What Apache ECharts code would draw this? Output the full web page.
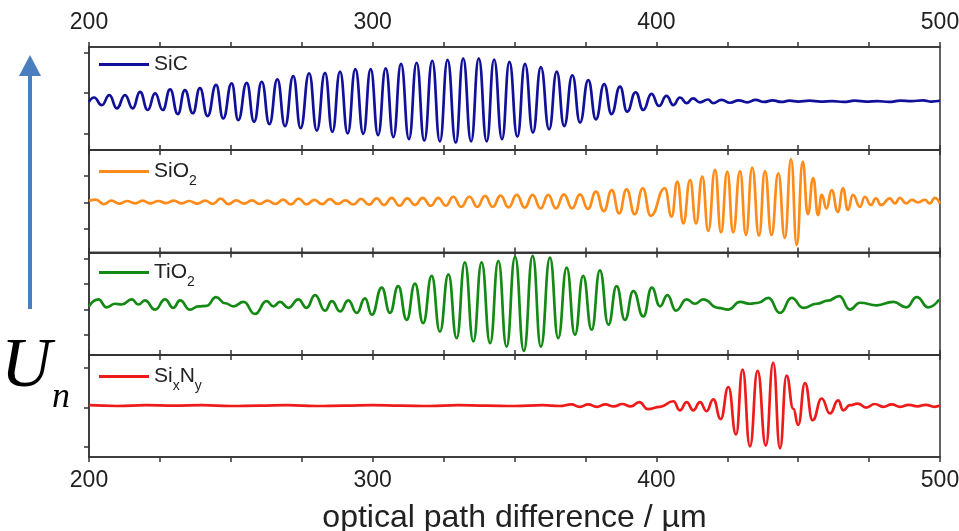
<!DOCTYPE html>
<html>
<head>
<meta charset="utf-8">
<script src="https://cdn.jsdelivr.net/npm/echarts@6/dist/echarts.min.js"></script>
<style>
  html, body { margin: 0; padding: 0; background: #fff; }
  #chart { width: 959px; height: 531px; }
</style>
</head>
<body>
<div id="chart"></div>
<script>
// optical path difference (µm) of each turning point, and signal (a.u., one y tick step = 1)
const sicX = [200, 201.8, 204.5, 207.2, 209.8, 212.7, 215.4, 218.0, 220.7, 223.3, 226.0, 228.6, 231.3, 233.8, 236.6, 239.1,
  241.8, 244.8, 247.3, 250.3, 252.6, 255.6, 258.2, 260.9, 263.6, 266.4, 269.1, 272.0, 274.6, 277.6, 280.3, 283.2, 285.8,
  288.5, 291.2, 293.9, 296.7, 299.3, 301.9, 304.6, 307.3, 310.0, 312.8, 315.5, 318.2, 321.0, 323.7, 326.4, 329.3, 331.9,
  334.7, 337.4, 340.2, 342.8, 345.6, 348.2, 351.0, 353.7, 356.5, 359.3, 362.2, 364.9, 367.5, 370.4, 373.1, 376.0, 378.7,
  381.6, 384.2, 387.2, 389.7, 392.7, 395.4, 398.3, 400.9, 403.6, 406.0, 408.3, 410.7, 412.9, 415.4, 418.2, 420.0,
  423, 426, 429, 432, 435, 438, 441, 444, 447, 450, 454, 458, 462, 466, 470, 474, 478, 482, 486, 490, 494, 497, 500];
const sicY = [-0.22, -0.11, -0.30, -0.05, -0.38, -0.05, -0.38, 0.03, -0.42, -0.01, -0.42, 0.09, -0.52, 0.07, -0.50, 0.12,
  -0.57, 0.20, -0.63, 0.24, -0.67, 0.25, -0.71, 0.28, -0.77, 0.34, -0.82, 0.42, -0.87, 0.49, -0.93, 0.50, -0.96,
  0.53, -1.00, 0.59, -1.01, 0.59, -1.04, 0.61, -1.09, 0.72, -1.14, 0.75, -1.18, 0.80, -1.20, 0.82, -1.23, 0.86,
  -1.20, 0.86, -1.20, 0.83, -1.14, 0.77, -1.08, 0.72, -0.98, 0.64, -0.90, 0.53, -0.82, 0.44, -0.73, 0.32, -0.65,
  0.22, -0.52, 0.16, -0.46, 0.02, -0.42, -0.02, -0.32, -0.07, -0.30, -0.11, -0.25, -0.13, -0.23, -0.16, -0.25,
  -0.17, -0.24, -0.18, -0.23, -0.17, -0.22, -0.18, -0.22, -0.19, -0.21, -0.19, -0.21, -0.20, -0.22, -0.19, -0.21, -0.20,
  -0.22, -0.19, -0.20, -0.18, -0.21, -0.19];

const sio2X = [200, 202.4, 205.2, 207.9, 210.7, 213.4, 216.2, 218.9, 221.7, 224.4, 227.2, 229.9, 232.7, 235.4, 238.2,
  240.9, 243.7, 246.4, 249.2, 251.9, 254.7, 257.4, 260.2, 262.9, 265.7, 268.4, 271.2, 273.9, 276.7, 279.4, 282.2,
  284.9, 287.7, 290.4, 293.2, 295.9, 298.7,
  301.4, 304.0, 306.7, 309.4, 312.2, 314.9, 317.6, 320.5, 323.1, 325.8, 328.4, 331.2, 334.1, 336.9, 339.6, 342.3,
  345.1, 347.9, 350.8, 353.6, 356.4, 359.2, 361.9, 364.6, 367.4, 370.3, 373.1, 375.9, 378.7, 381.5, 384.3, 386.9,
  389.5, 392.4, 395.2, 398.0,
  403.0, 405.4, 407.4, 409.5, 411.9, 414.0, 416.2, 418.3, 420.7, 422.8, 425.0, 427.1, 429.5, 431.6, 433.8, 436.2,
  438.3, 440.6, 443.0, 445.3, 447.5, 449.5, 451.6,
  453.4, 455.3, 457.0, 458.3, 460.0, 461.8, 464.0, 465.8, 467.5, 469.3, 471.8, 473.5, 475.6, 477.4, 479.2, 482.3,
  484.1, 485.9, 488.0, 490.1, 492.2, 494.7, 496.4, 498.2, 500];
const sio2Y = [0.05, 0.10, -0.07, 0.06, -0.05, 0.05, -0.04, 0.06, -0.04, 0.05, -0.03, 0.06, -0.04, 0.05, -0.05, 0.06,
  -0.06, 0.14, -0.07, 0.07, -0.05, 0.07, -0.06, 0.06, -0.06, 0.10, -0.08, 0.14, -0.08, 0.09, -0.07, 0.12, -0.06,
  0.07, -0.08, 0.13, -0.09,
  0.15, -0.10, 0.17, -0.13, 0.15, -0.10, 0.17, -0.13, 0.17, -0.13, 0.21, -0.17, 0.21, -0.17, 0.24, -0.17,
  0.25, -0.19, 0.28, -0.20, 0.28, -0.23, 0.28, -0.23, 0.30, -0.23, 0.30, -0.25, 0.40, -0.33, 0.46, -0.42,
  0.49, -0.45, 0.53, -0.51,
  0.53, -0.54, 0.78, -0.79, 0.84, -0.79, 0.97, -1.08, 1.22, -1.13, 1.16, -1.13, 1.18, -1.23, 1.31, -1.26,
  1.18, -1.23, 1.09, -1.34, 1.63, -1.61, 1.53,
  -0.45, 0.91, -0.48, 0.28, -0.23, 0.46, -0.36, 0.53, -0.29, 0.28, -0.17, 0.21, -0.10, 0.15, -0.10, 0.15,
  -0.04, 0.17, -0.04, 0.09, 0.00, 0.09, -0.04, 0.17, -0.05];

const tio2X = [200, 203.3, 206.2, 209.2, 211.5, 215.1, 217.4, 219.7, 223.3, 226.8, 229.7, 232.1, 235.6, 238.5, 241.5,
  244.8, 248.0, 250.9, 254.5, 258.5, 262.6, 265.0, 267.3, 270.3, 273.8, 276.7, 279.7, 283.2, 285.6, 288.5, 291.4,
  294.4, 297.3, 299.7,
  303.2, 306.1, 309.0, 312.0, 314.9, 317.8, 320.8, 323.7, 326.7, 329.6, 332.5, 335.5, 338.4, 341.4, 344.3, 347.2,
  350.2, 353.3, 356.4, 359.3, 362.5, 365.4, 368.4, 371.3, 374.2, 377.2, 380.1, 383.1, 386.0, 388.9, 391.9, 395.4,
  398.4, 401.3, 403.9, 406.9, 410.7, 413.6, 416.5, 421.8, 425.4, 429.5, 433.0, 436.0, 439.5, 443.6, 447.7, 451.8,
  456.5, 460.5, 464.5, 468.2, 471.8, 477.7, 483.5, 488.2, 491.8, 495.9, 499.7];
const tio2Y = [0.13, 0.40, 0.09, 0.23, 0.20, 0.40, 0.20, 0.36, 0.00, 0.40, 0.07, 0.36, 0.00, 0.13, 0.15, 0.49, 0.25,
  0.13, 0.30, -0.17, 0.33, 0.13, 0.30, 0.07, 0.40, 0.07, 0.57, -0.04, 0.33, -0.07, 0.36, -0.13, 0.44, -0.20,
  0.86, -0.13, 0.92, -0.40, 1.02, -0.53, 1.32, -0.86, 1.38, -1.12, 1.85, -1.25, 1.85, -1.32, 1.91, -1.45,
  2.07, -1.62, 2.11, -1.45, 2.04, -1.12, 1.65, -0.99, 1.32, -0.79, 1.54, -0.59, 0.92, -0.40, 0.73, -0.27,
  0.86, 0.13, 0.57, -0.04, 0.40, 0.23, 0.40, 0.07, 0.00, 0.30, 0.23, 0.27, 0.46, -0.13, 0.46, 0.07,
  0.23, 0.35, 0.53, 0.00, 0.27, 0.17, 0.30, 0.09, 0.49, 0.09, 0.40];

const sinX = [200, 210, 220, 230, 240, 250, 260, 270, 280, 290, 300, 310, 320, 330, 340, 350, 360, 366, 370, 373, 376,
  379, 382, 385, 388, 391, 394, 397,
  401.3, 406.0, 408.3, 410.7, 413.0, 415.4, 417.7, 420.1, 422.7, 425.4, 428.1, 430.4, 433.0, 435.7, 438.6, 441.2,
  443.6, 445.9, 448.3, 450.0, 452.4, 455.1, 458.3, 461.2, 464.1, 465.9, 468.2,
  471, 474, 477, 480, 483, 486, 489, 492, 495, 498, 500];
const sinY = [0.06, 0.04, 0.06, 0.05, 0.06, 0.04, 0.05, 0.06, 0.04, 0.05, 0.06, 0.05, 0.04, 0.06, 0.05, 0.04, 0.06,
  0.04, 0.08, 0.02, 0.08, 0.02, 0.08, 0.03, 0.09, 0.03, 0.14, -0.04,
  0.02, 0.16, -0.07, 0.14, -0.07, 0.14, -0.09, 0.21, -0.29, 0.52, -0.68, 0.96, -0.98, 0.93, -0.96, 1.14,
  -1.03, 0.81, -0.03, -0.44, 0.62, -0.32, 0.23, -0.15, 0.18, -0.07, 0.06,
  0.10, 0.00, 0.09, 0.02, 0.08, 0.02, 0.07, 0.03, 0.07, 0.02, 0.05];

const names = ['SiC', 'SiO2', 'TiO2', 'SixNy'];
const colors = ['#10109a', '#ff8c1a', '#148a14', '#ee1b1b'];
const xs = [sicX, sio2X, tio2X, sinX];
const ys = [sicY, sio2Y, tio2Y, sinY];
const yMin = [-1.41, -1.89, -1.78, -1.25];
const yMax = [1.14, 1.97, 2.24, 1.33];
const yTicks = [[-1, 0, 1], [-1, 0, 1], [-1, 0, 1, 2], [-1, 0, 1]];
const xTickLabels = [200, 300, 400, 500];

const chart = echarts.init(document.getElementById('chart'));

const tops = [47, 150, 252.5, 355];
const heights = [103, 102.5, 102.5, 102];
const axisCol = '#333';
const font = '"Liberation Sans", Arial, sans-serif';

// outerBoundsMode none: keep the panels where they are, labels may touch the edge
const grid = tops.map((t, i) => ({
  left: 89, right: 19, top: t, height: heights[i], outerBoundsMode: 'none',
  show: true, borderColor: axisCol, borderWidth: 1.5, backgroundColor: 'transparent'
}));

const xAxis = [];
tops.forEach((t, i) => {
  ['bottom', 'top'].forEach(pos => {
    const showLab = (pos === 'top' && i === 0) || (pos === 'bottom' && i === 3);
    xAxis.push({
      gridIndex: i, type: 'value', position: pos, min: 200, max: 500, interval: 25,
      axisLine: { show: true, onZero: false, lineStyle: { color: axisCol, width: 1.5 } },
      axisTick: { show: true, inside: false, length: 5, lineStyle: { color: axisCol, width: 1.5 } },
      axisLabel: {
        show: showLab, margin: pos === 'top' ? 13 : 12, color: '#222', fontSize: 23, fontFamily: font,
        formatter: v => xTickLabels.includes(v) ? String(v) : ''
      },
      splitLine: { show: false },
      name: (pos === 'bottom' && i === 3) ? 'optical path difference / µm' : '',
      nameLocation: 'middle', nameGap: 45,
      nameTextStyle: { fontSize: 32, color: '#222', fontFamily: font }
    });
  });
});

const yAxis = tops.map((t, i) => ({
  gridIndex: i, type: 'value', min: yMin[i], max: yMax[i],
  axisLine: { show: true, onZero: false, lineStyle: { color: axisCol, width: 1.5 } },
  axisTick: { show: true, inside: false, length: 5, customValues: yTicks[i], lineStyle: { color: axisCol, width: 1.5 } },
  axisLabel: { show: false },
  splitLine: { show: false }
}));

const legendText = {
  SiC: '{b|SiC}',
  SiO2: '{b|SiO}{s|2}',
  TiO2: '{b|TiO}{s|2}',
  SixNy: '{b|Si}{s|x}{b|N}{s|y}'
};
const legendCenters = [64, 171, 272, 376];
const legend = names.map((n, i) => ({
  data: [n], left: 94, top: legendCenters[i] - 15,
  icon: 'rect', itemWidth: 50, itemHeight: 3,
  formatter: name => legendText[name],
  textStyle: {
    color: '#222', fontFamily: font,
    rich: {
      b: { fontSize: 21, lineHeight: 44, verticalAlign: 'middle', fontFamily: font, color: '#222' },
      s: { fontSize: 14, height: 24, verticalAlign: 'bottom', fontFamily: font, color: '#222' }
    }
  }
}));

const series = names.map((n, i) => ({
  name: n, type: 'line', xAxisIndex: i * 2, yAxisIndex: i,
  data: xs[i].map((x, k) => [x, ys[i][k]]),
  showSymbol: false, smooth: 0.5, smoothMonotone: 'x',
  color: colors[i],
  lineStyle: { color: colors[i], width: 2.7 }
}));

chart.setOption({
  animation: false,
  backgroundColor: '#fff',
  grid, xAxis, yAxis, legend, series,
  graphic: [
    { type: 'line', shape: { x1: 30, y1: 309, x2: 30, y2: 72 }, style: { stroke: '#4a7ebf', lineWidth: 4 } },
    { type: 'polygon', shape: { points: [[19, 76], [30, 55], [41, 76]] }, style: { fill: '#4a7ebf' } },
    { type: 'text', left: 1, top: 333, style: { text: 'U', font: 'italic 70px "Liberation Serif", "DejaVu Serif", serif', fill: '#000' } },
    { type: 'text', left: 52, top: 380, style: { text: 'n', font: 'italic 36px "Liberation Serif", "DejaVu Serif", serif', fill: '#000' } }
  ]
});
</script>
</body>
</html>
